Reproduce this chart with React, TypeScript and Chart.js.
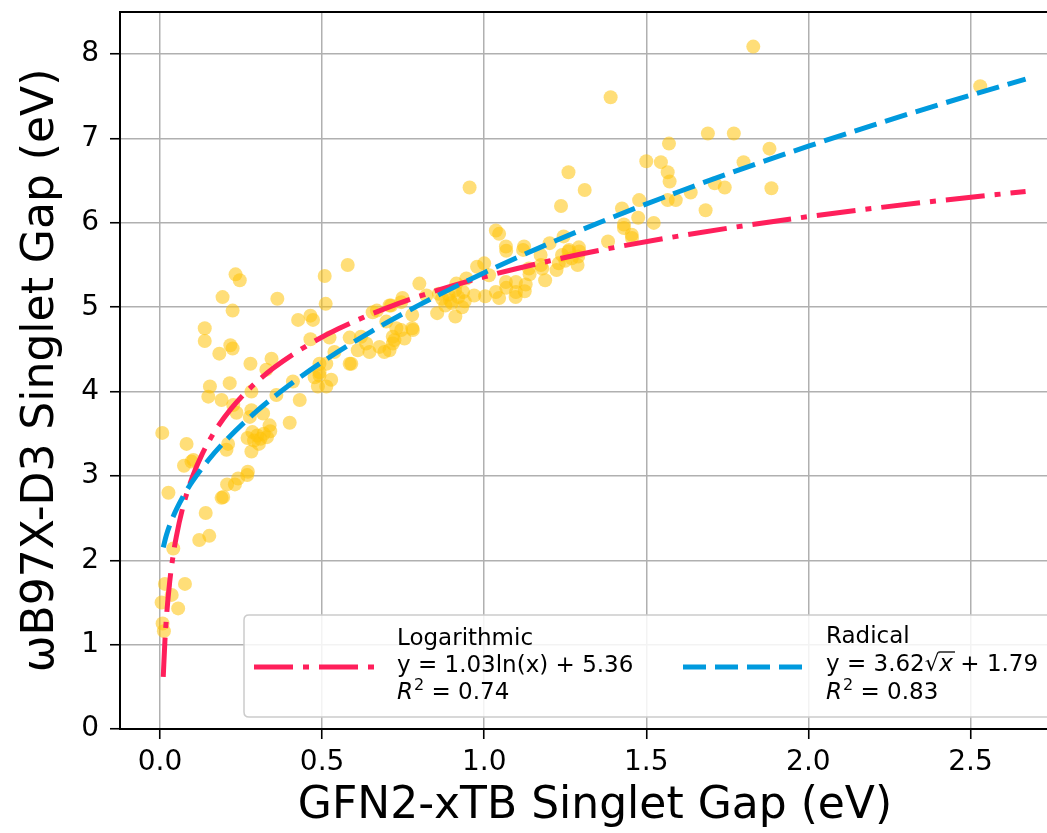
import React, { useEffect, useRef } from "react";
import { Chart, registerables } from "chart.js";

Chart.register(...registerables);

const FONT = "'DejaVu Sans', sans-serif";

const xTicks = [0, 0.5, 1.0, 1.5, 2.0, 2.5];
const yTicks = [0, 1, 2, 3, 4, 5, 6, 7, 8];

const scatterX = [
  1.83, 1.39, 2.53, 1.69, 1.77, 1.57, 1.88, 1.5, 1.545, 1.566,
  1.572, 1.8, 1.31, 1.478, 1.711, 1.742, 1.637, 1.886, 1.425, 1.475,
  1.431, 1.455, 1.523, 1.566, 1.591, 1.683, 1.26, 1.237, 1.382, 1.431,
  1.456, 1.046, 1.068, 1.12, 1.202, 1.245, 1.24, 1.26, 1.27, 1.25,
  1.29, 1.23, 1.188, 1.068, 1.097, 1.125, 1.046, 1.14, 1.175, 1.223,
  1.288, 1.293, 1.067, 1.123, 1.174, 1.262, 1.292, 1.179, 1.138, 1.067,
  1.098, 1.128, 1.098, 1.036, 1.003, 0.969, 0.978, 1.0, 1.036, 0.955,
  1.015, 0.8, 0.748, 0.708, 0.778, 0.855, 0.911, 0.932, 0.945, 0.914,
  0.87, 0.89, 0.9, 0.88, 0.92, 0.935, 0.86, 0.91, 0.895, 0.94,
  0.729, 0.778, 0.754, 0.723, 0.708, 0.822, 0.744, 0.698, 0.718, 0.656,
  0.62, 0.636, 0.61, 0.646, 0.677, 0.692, 0.585, 0.579, 0.508, 0.511,
  0.464, 0.472, 0.426, 0.362, 0.344, 0.328, 0.279, 0.492, 0.477, 0.528,
  0.492, 0.513, 0.487, 0.492, 0.431, 0.4, 0.338, 0.359, 0.282, 0.215,
  0.154, 0.149, 0.19, 0.226, 0.236, 0.282, 0.318, 0.277, 0.41, 0.464,
  0.523, 0.585, 0.538, 0.513, 0.59, 0.669, 0.713, 0.718, 0.27, 0.29,
  0.3, 0.31, 0.32, 0.33, 0.285, 0.305, 0.34, 0.21, 0.205, 0.282,
  0.007, 0.082, 0.074, 0.103, 0.097, 0.271, 0.026, 0.207, 0.241, 0.269,
  0.231, 0.195, 0.19, 0.141, 0.121, 0.152, 0.041, 0.077, 0.015, 0.036,
  0.005, 0.056, 0.008, 0.012, 0.233, 0.246, 0.193, 0.224, 0.138, 0.138,
  0.183, 0.217, 0.224, 0.78, 0.744,
];

const scatterY = [
  8.09, 7.49, 7.62, 7.06, 7.06, 6.94, 6.88, 6.73, 6.72, 6.6,
  6.49, 6.72, 6.39, 6.27, 6.47, 6.42, 6.36, 6.41, 6.17, 6.06,
  5.98, 5.86, 6.0, 6.27, 6.27, 6.15, 6.6, 6.2, 5.78, 5.94,
  5.82, 5.87, 5.67, 5.68, 5.76, 5.84, 5.62, 5.66, 5.58, 5.55,
  5.6, 5.52, 5.32, 5.23, 5.12, 5.19, 5.11, 5.39, 5.5, 5.44,
  5.5, 5.66, 5.72, 5.72, 5.62, 5.68, 5.71, 5.46, 5.46, 5.3,
  5.3, 5.27, 5.18, 5.18, 5.13, 5.14, 5.48, 5.52, 5.91, 6.42,
  5.38, 5.28, 5.11, 5.02, 4.91, 4.93, 4.89, 5.0, 5.34, 5.28,
  5.1, 5.15, 5.05, 5.02, 5.12, 5.18, 5.16, 5.2, 5.08, 5.07,
  4.75, 4.75, 4.63, 4.61, 4.49, 5.14, 5.06, 4.83, 4.65, 4.94,
  4.65, 4.57, 4.49, 4.47, 4.53, 4.47, 4.33, 5.5, 5.37, 5.04,
  4.9, 4.85, 4.85, 5.1, 4.39, 4.26, 4.33, 4.33, 4.17, 4.14,
  4.23, 4.06, 4.06, 4.19, 3.9, 3.63, 3.6, 3.96, 4.0, 4.1,
  4.06, 3.94, 3.9, 3.84, 3.75, 3.78, 3.74, 3.7, 4.12, 4.62,
  4.64, 4.64, 4.47, 4.33, 4.33, 4.96, 5.02, 4.57, 3.45, 3.42,
  3.48, 3.44, 3.5, 3.46, 3.52, 3.38, 3.53, 3.38, 3.31, 3.29,
  3.51, 3.38, 3.12, 3.19, 3.17, 3.05, 2.8, 2.9, 2.97, 3.01,
  2.9, 2.75, 2.74, 2.56, 2.24, 2.29, 2.14, 1.72, 1.72, 1.59,
  1.5, 1.43, 1.25, 1.16, 5.39, 5.32, 5.12, 4.96, 4.75, 4.6,
  4.45, 4.55, 4.51, 4.73, 4.73,
];

// Logarithmic fit curve
const logX = [0.01, 0.015, 0.02, 0.03, 0.04, 0.05, 0.07, 0.1, 0.13, 0.17, 0.22, 0.28, 0.35, 0.45, 0.55, 0.7, 0.85, 1.0, 1.2, 1.4, 1.6, 1.8, 2.0, 2.2, 2.4, 2.67];
const logY = [0.617, 1.034, 1.331, 1.748, 2.045, 2.274, 2.621, 2.988, 3.259, 3.535, 3.801, 4.049, 4.279, 4.537, 4.744, 4.993, 5.193, 5.36, 5.548, 5.707, 5.844, 5.965, 6.074, 6.172, 6.262, 6.372];

// Radical fit curve
const radX = [0.01, 0.02, 0.04, 0.07, 0.1, 0.15, 0.2, 0.3, 0.4, 0.5, 0.65, 0.8, 1.0, 1.2, 1.4, 1.6, 1.8, 2.0, 2.2, 2.4, 2.67];
const radY = [2.152, 2.302, 2.514, 2.748, 2.935, 3.192, 3.409, 3.773, 4.08, 4.35, 4.708, 5.028, 5.41, 5.755, 6.073, 6.369, 6.647, 6.909, 7.159, 7.398, 7.705];

const PINK = "#FF1F5B";
const BLUE = "#009ADE";
const DOT = "rgba(255,194,10,0.55)";
const LOG_DASH = [39, 10, 6, 10];
const RAD_DASH = [23, 9];

const legendPlugin = {
  id: "fitLegend",
  afterDraw(chart: any) {
    const ctx: CanvasRenderingContext2D = chart.ctx;
    const area = chart.chartArea;
    ctx.save();
    // top spine
    ctx.strokeStyle = "#000";
    ctx.lineWidth = 2;
    ctx.setLineDash([]);
    ctx.beginPath();
    ctx.moveTo(area.left, area.top);
    ctx.lineTo(area.right, area.top);
    ctx.stroke();

    // legend frame
    const bx = 244, by = 615, bw = area.right - 12 - 244, bh = 102, r = 5;
    ctx.beginPath();
    ctx.moveTo(bx + r, by);
    ctx.lineTo(bx + bw - r, by);
    ctx.quadraticCurveTo(bx + bw, by, bx + bw, by + r);
    ctx.lineTo(bx + bw, by + bh - r);
    ctx.quadraticCurveTo(bx + bw, by + bh, bx + bw - r, by + bh);
    ctx.lineTo(bx + r, by + bh);
    ctx.quadraticCurveTo(bx, by + bh, bx, by + bh - r);
    ctx.lineTo(bx, by + r);
    ctx.quadraticCurveTo(bx, by, bx + r, by);
    ctx.closePath();
    ctx.fillStyle = "rgba(255,255,255,0.85)";
    ctx.fill();
    ctx.strokeStyle = "#cccccc";
    ctx.lineWidth = 1.5;
    ctx.stroke();

    // handles
    ctx.lineWidth = 5;
    ctx.lineCap = "butt";
    ctx.strokeStyle = PINK;
    ctx.setLineDash(LOG_DASH);
    ctx.beginPath();
    ctx.moveTo(254, 667);
    ctx.lineTo(375, 667);
    ctx.stroke();
    ctx.strokeStyle = BLUE;
    ctx.setLineDash(RAD_DASH);
    ctx.beginPath();
    ctx.moveTo(683, 667);
    ctx.lineTo(803, 667);
    ctx.stroke();
    ctx.setLineDash([]);

    const fs = 23;
    const reg = `${fs}px ${FONT}`;
    const ital = `italic ${fs}px ${FONT}`;
    const small = `${Math.round(fs * 0.7)}px ${FONT}`;
    ctx.fillStyle = "#000";
    ctx.textBaseline = "alphabetic";
    ctx.textAlign = "left";

    const drawR2 = (x: number, y: number, val: string) => {
      ctx.font = ital;
      ctx.fillText("R", x, y);
      let cx = x + ctx.measureText("R").width + 1;
      ctx.font = small;
      ctx.fillText("2", cx, y - 9);
      cx += ctx.measureText("2").width;
      ctx.font = reg;
      ctx.fillText(" = " + val, cx, y);
    };

    // left entry
    ctx.font = reg;
    ctx.fillText("Logarithmic", 397, 645);
    ctx.fillText("y = 1.03ln(x) + 5.36", 397, 672);
    drawR2(397, 699, "0.74");

    // right entry
    const rx = 826;
    ctx.font = reg;
    ctx.fillText("Radical", rx, 643);
    const pre = "y = 3.62";
    ctx.fillText(pre, rx, 671);
    let cx = rx + ctx.measureText(pre).width;
    ctx.fillText("\u221A", cx, 671);
    cx += ctx.measureText("\u221A").width;
    ctx.font = ital;
    const xw = ctx.measureText("x").width;
    ctx.fillText("x", cx, 671);
    ctx.lineWidth = 1.3;
    ctx.strokeStyle = "#000";
    ctx.beginPath();
    ctx.moveTo(cx - 1, 671 - 19);
    ctx.lineTo(cx + xw + 2, 671 - 19);
    ctx.stroke();
    cx += xw;
    ctx.font = reg;
    ctx.fillText(" + 1.79", cx, 671);
    drawR2(rx, 699, "0.83");

    ctx.restore();
  },
};

const zeroPad = (s: any) => {
  s.paddingTop = 0;
  s.paddingBottom = 0;
  s.paddingLeft = 0;
  s.paddingRight = 0;
};

export default function App() {
  const ref = useRef<HTMLCanvasElement | null>(null);

  useEffect(() => {
    if (!ref.current) return;
    const scatterData = scatterX.map((x, i) => ({ x, y: scatterY[i] }));
    const logData = logX.map((x, i) => ({ x, y: logY[i] }));
    const radData = radX.map((x, i) => ({ x, y: radY[i] }));

    const chart = new Chart(ref.current, {
      type: "scatter",
      data: {
        datasets: [
          {
            label: "Radical",
            data: radData,
            showLine: true,
            borderColor: BLUE,
            borderWidth: 5,
            borderDash: RAD_DASH,
            pointRadius: 0,
            cubicInterpolationMode: "monotone",
            fill: false,
          } as any,
          {
            label: "Logarithmic",
            data: logData,
            showLine: true,
            borderColor: PINK,
            borderWidth: 5,
            borderDash: LOG_DASH,
            pointRadius: 0,
            cubicInterpolationMode: "monotone",
            fill: false,
          } as any,
          {
            label: "data",
            data: scatterData,
            backgroundColor: DOT,
            borderWidth: 0,
            pointRadius: 7,
            pointHoverRadius: 7,
          },
        ],
      },
      options: {
        animation: false,
        responsive: false,
        maintainAspectRatio: false,
        devicePixelRatio: 1,
        layout: { autoPadding: false, padding: { top: 12, left: 0, right: 0, bottom: 0 } },
        plugins: { legend: { display: false }, tooltip: { enabled: false } },
        events: [],
        scales: {
          x: {
            type: "linear",
            min: -0.1234,
            max: 2.807,
            afterBuildTicks: (s: any) => {
              s.ticks = xTicks.map((v) => ({ value: v }));
            },
            afterFit: (s: any) => {
              s.height = 104;
              zeroPad(s);
            },
            grid: {
              color: "#b0b0b0",
              lineWidth: 1.5,
              drawTicks: true,
              tickLength: 10,
              tickColor: "#000",
              tickWidth: 1.6,
            },
            border: { display: true, color: "#000", width: 2 },
            ticks: {
              color: "#000",
              font: { family: FONT, size: 28 },
              padding: 7,
              maxRotation: 0,
              autoSkip: false,
              callback: (v: any) => Number(v).toFixed(1),
            },
            title: {
              display: true,
              text: "GFN2-xTB Singlet Gap (eV)",
              color: "#000",
              font: { family: FONT, size: 44, lineHeight: 1.2 },
              padding: { top: 0, bottom: 0 },
            },
          },
          y: {
            type: "linear",
            min: 0,
            max: 8.5,
            afterBuildTicks: (s: any) => {
              s.ticks = yTicks.map((v) => ({ value: v }));
            },
            afterFit: (s: any) => {
              s.width = 120;
              zeroPad(s);
            },
            grid: {
              color: "#b0b0b0",
              lineWidth: 1.5,
              drawTicks: true,
              tickLength: 10,
              tickColor: "#000",
              tickWidth: 1.6,
            },
            border: { display: true, color: "#000", width: 2 },
            ticks: {
              color: "#000",
              font: { family: FONT, size: 28 },
              padding: 11,
              autoSkip: false,
              callback: (v: any) => String(v),
            },
            title: {
              display: true,
              text: "\u03C9B97X-D3 Singlet Gap (eV)",
              color: "#000",
              font: { family: FONT, size: 44, lineHeight: 1.2 },
              padding: { top: 15, bottom: 0 },
            },
          },
        },
      },
      plugins: [legendPlugin],
    });
    return () => chart.destroy();
  }, []);

  return (
    <div
      style={{
        position: "absolute",
        left: 0,
        top: 0,
        width: 1047,
        height: 833,
        overflow: "hidden",
        background: "#fff",
      }}
    >
      <canvas ref={ref} width={1070} height={833} style={{ display: "block", width: 1070, height: 833 }} />
    </div>
  );
}
